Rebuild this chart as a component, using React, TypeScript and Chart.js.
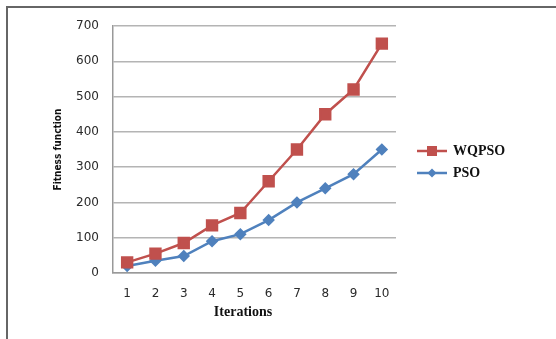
import React, { useEffect, useRef } from "react";
import { Chart, registerables } from "chart.js";

Chart.register(...registerables);

const iterations = ["1", "2", "3", "4", "5", "6", "7", "8", "9", "10"];
const wqpsoValues = [30, 55, 85, 135, 170, 260, 350, 450, 520, 650];
const psoValues = [20, 35, 48, 90, 110, 150, 200, 240, 280, 350];
const yTicks = [0, 100, 200, 300, 400, 500, 600, 700];
const xTitle = "Iterations";

const RED = "#C0504D";
const BLUE = "#4F81BD";

const framePlugin = {
  id: "frame",
  beforeDraw(chart: any) {
    const ctx = chart.ctx;
    ctx.save();
    ctx.fillStyle = "#ffffff";
    ctx.fillRect(0, 0, chart.width, chart.height);
    ctx.strokeStyle = "#666666";
    ctx.lineWidth = 2;
    ctx.strokeRect(7, 7, chart.width + 20, chart.height + 20);
    ctx.restore();
  },
};

const legendPlugin = {
  id: "customLegend",
  afterDraw(chart: any) {
    const ctx = chart.ctx;
    ctx.save();
    ctx.fillStyle = "#111111";
    ctx.font = "bold 14px 'Liberation Serif', 'DejaVu Serif', serif";
    ctx.textAlign = "center";
    ctx.textBaseline = "middle";
    ctx.fillText(xTitle, 243, 312);
    ctx.restore();

    const x0 = 417;
    const x1 = 447;
    const ys = [151, 173];
    chart.data.datasets.forEach((ds: any, i: number) => {
      const y = ys[i];
      ctx.save();
      ctx.strokeStyle = ds.borderColor;
      ctx.lineWidth = 2.5;
      ctx.beginPath();
      ctx.moveTo(x0, y);
      ctx.lineTo(x1, y);
      ctx.stroke();
      ctx.fillStyle = ds.pointBackgroundColor;
      const cx = (x0 + x1) / 2;
      if (ds.pointStyle === "rect") {
        ctx.fillRect(cx - 5, y - 5, 10, 10);
      } else {
        ctx.beginPath();
        ctx.moveTo(cx, y - 4.5);
        ctx.lineTo(cx + 4.5, y);
        ctx.lineTo(cx, y + 4.5);
        ctx.lineTo(cx - 4.5, y);
        ctx.closePath();
        ctx.fill();
      }
      ctx.fillStyle = "#111111";
      ctx.font = "bold 14px 'Liberation Serif', 'DejaVu Serif', serif";
      ctx.textBaseline = "middle";
      ctx.textAlign = "left";
      ctx.fillText(ds.label, 453, y);
      ctx.restore();
    });
  },
};

export default function App() {
  const ref = useRef<HTMLCanvasElement>(null);

  useEffect(() => {
    document.body.style.margin = "0";
    document.body.style.overflow = "hidden";
    const canvas = ref.current!;
    const chart = new Chart(canvas, {
      type: "line",
      data: {
        labels: iterations,
        datasets: [
          {
            label: "WQPSO",
            data: wqpsoValues,
            borderColor: RED,
            backgroundColor: RED,
            pointBackgroundColor: RED,
            pointBorderColor: RED,
            pointStyle: "rect",
            pointRadius: 7,
            borderWidth: 2.5,
            tension: 0,
          },
          {
            label: "PSO",
            data: psoValues,
            borderColor: BLUE,
            backgroundColor: BLUE,
            pointBackgroundColor: BLUE,
            pointBorderColor: BLUE,
            pointStyle: "rectRot",
            pointRadius: 4.5,
            borderWidth: 2.5,
            tension: 0,
          },
        ],
      },
      options: {
        responsive: false,
        animation: false,
        layout: { padding: { left: 46, top: 26, right: 160, bottom: 0 } },
        plugins: {
          legend: { display: false },
          tooltip: { enabled: false },
        },
        scales: {
          x: {
            offset: true,
            grid: { display: false, drawTicks: false },
            border: { display: true, color: "#999999", width: 1.5 },
            ticks: {
              color: "#2a2a2a",
              padding: 14,
              font: { family: "'DejaVu Sans', sans-serif", size: 12 },
              maxRotation: 0,
            },
            title: { display: false },
            afterFit(scale: any) {
              scale.height = 66;
            },
          },
          y: {
            min: 0,
            max: 700,
            afterBuildTicks(scale: any) {
              scale.ticks = yTicks.map((v) => ({ value: v }));
            },
            grid: { color: "#b4b4b4", lineWidth: 1.5, drawTicks: false },
            border: { display: true, color: "#999999", width: 1.5 },
            ticks: {
              color: "#2a2a2a",
              padding: 14,
              font: { family: "'DejaVu Sans', sans-serif", size: 12 },
            },
            title: {
              display: true,
              text: "Fitness function",
              color: "#111111",
              font: { family: "'DejaVu Sans Condensed', 'Liberation Sans Narrow', sans-serif", size: 10, weight: "bold" },
              padding: { top: 6, bottom: 0 },
            },
            afterFit(scale: any) {
              scale.width = 67;
            },
          },
        },
      },
      plugins: [framePlugin, legendPlugin],
    });
    return () => chart.destroy();
  }, []);

  return <canvas ref={ref} width={556} height={339} style={{ display: "block" }} />;
}
